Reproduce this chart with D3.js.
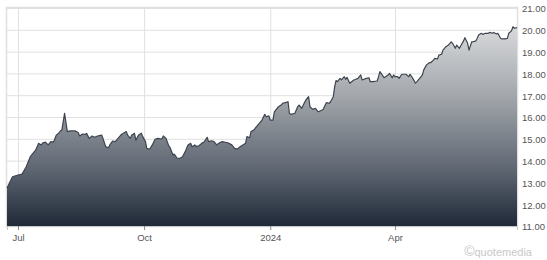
<!DOCTYPE html>
<html>
<head>
<meta charset="utf-8">
<script src="https://cdn.jsdelivr.net/npm/d3@7"></script>
<style>
  body { margin: 0; background: #fff; }
  svg text { font-family: "Liberation Sans", Tahoma, Arial, sans-serif; }
</style>
</head>
<body>
<div class="graph_container"></div>
<script>
const width = 547;
const height = 260;
const plot = { left: 7, top: 8, right: 517, bottom: 226 };

// one line per month, dates and closes kept in step
const dates = [
  '2023-06-23', '2023-06-27',
  '2023-07-01', '2023-07-04', '2023-07-07', '2023-07-10', '2023-07-14', '2023-07-16', '2023-07-18', '2023-07-19', '2023-07-21', '2023-07-23', '2023-07-25', '2023-07-27', '2023-07-29', '2023-07-31',
  '2023-08-01', '2023-08-02', '2023-08-04', '2023-08-06', '2023-08-08', '2023-08-12', '2023-08-14', '2023-08-15', '2023-08-17', '2023-08-19', '2023-08-20', '2023-08-22', '2023-08-24', '2023-08-26', '2023-08-28', '2023-08-31',
  '2023-09-01', '2023-09-03', '2023-09-05', '2023-09-06', '2023-09-08', '2023-09-10', '2023-09-12', '2023-09-14', '2023-09-15', '2023-09-18', '2023-09-19', '2023-09-21', '2023-09-22', '2023-09-24', '2023-09-25', '2023-09-27', '2023-09-29', '2023-09-30',
  '2023-10-02', '2023-10-03', '2023-10-05', '2023-10-07', '2023-10-09', '2023-10-11', '2023-10-14', '2023-10-15', '2023-10-17', '2023-10-19', '2023-10-20', '2023-10-22', '2023-10-23', '2023-10-25', '2023-10-27', '2023-10-29', '2023-10-31',
  '2023-11-02', '2023-11-04', '2023-11-05', '2023-11-07', '2023-11-08', '2023-11-10', '2023-11-12', '2023-11-14', '2023-11-16', '2023-11-17', '2023-11-19', '2023-11-21', '2023-11-23', '2023-11-25', '2023-11-27',
  '2023-12-01', '2023-12-04', '2023-12-06', '2023-12-08', '2023-12-10', '2023-12-12', '2023-12-14', '2023-12-15', '2023-12-17', '2023-12-18', '2023-12-20', '2023-12-22', '2023-12-24', '2023-12-26', '2023-12-28', '2023-12-29', '2023-12-31',
  '2024-01-01', '2024-01-03', '2024-01-04', '2024-01-07', '2024-01-09', '2024-01-10', '2024-01-12', '2024-01-14', '2024-01-15', '2024-01-16', '2024-01-19', '2024-01-21', '2024-01-22', '2024-01-24', '2024-01-26', '2024-01-27', '2024-01-29', '2024-01-30',
  '2024-02-01', '2024-02-03', '2024-02-04', '2024-02-05', '2024-02-08', '2024-02-09', '2024-02-11', '2024-02-13', '2024-02-14', '2024-02-16', '2024-02-17', '2024-02-18', '2024-02-19', '2024-02-21', '2024-02-22', '2024-02-24', '2024-02-25', '2024-02-26', '2024-02-28',
  '2024-03-02', '2024-03-03', '2024-03-05', '2024-03-07', '2024-03-08', '2024-03-11', '2024-03-13', '2024-03-14', '2024-03-16', '2024-03-19', '2024-03-20', '2024-03-21', '2024-03-23', '2024-03-24', '2024-03-27', '2024-03-28', '2024-03-30', '2024-03-31',
  '2024-04-01', '2024-04-03', '2024-04-04', '2024-04-06', '2024-04-07', '2024-04-09', '2024-04-11', '2024-04-12', '2024-04-14', '2024-04-16', '2024-04-17', '2024-04-19', '2024-04-21', '2024-04-22', '2024-04-24', '2024-04-26', '2024-04-27', '2024-04-29', '2024-04-30',
  '2024-05-02', '2024-05-03', '2024-05-05', '2024-05-06', '2024-05-08', '2024-05-09', '2024-05-10', '2024-05-12', '2024-05-13', '2024-05-15', '2024-05-16', '2024-05-18', '2024-05-19', '2024-05-21', '2024-05-22', '2024-05-24', '2024-05-25', '2024-05-27', '2024-05-28', '2024-05-30', '2024-05-31',
  '2024-06-01', '2024-06-03', '2024-06-04', '2024-06-06', '2024-06-08', '2024-06-09', '2024-06-11', '2024-06-12', '2024-06-14', '2024-06-15', '2024-06-17', '2024-06-18', '2024-06-20', '2024-06-22', '2024-06-23', '2024-06-25', '2024-06-26', '2024-06-27', '2024-06-29'
];

const closes = [
  12.74, 13.26,
  13.34, 13.38, 13.72, 14.18, 14.49, 14.79, 14.72, 14.80, 14.85, 14.72, 14.87, 14.85, 15.17, 15.28,
  15.36, 15.40, 16.17, 15.33, 15.36, 15.36, 15.28, 15.13, 15.22, 15.20, 15.25, 15.02, 15.13, 15.07, 15.13, 15.17,
  15.02, 14.64, 14.59, 14.72, 14.90, 14.87, 15.02, 15.17, 15.22, 15.33, 15.17, 15.02, 15.17, 15.25, 14.94, 15.17, 15.26, 15.10,
  14.87, 14.56, 14.52, 14.72, 14.98, 15.02, 14.99, 15.13, 15.02, 14.67, 14.59, 14.26, 14.30, 14.12, 14.10, 14.18, 14.41,
  14.72, 14.79, 14.64, 14.72, 14.64, 14.68, 14.79, 14.87, 15.07, 14.87, 14.91, 14.87, 14.72, 14.82, 14.87,
  14.82, 14.72, 14.56, 14.53, 14.64, 14.72, 14.79, 15.10, 15.05, 15.33, 15.40, 15.56, 15.71, 15.86, 16.12, 16.01, 16.05,
  15.86, 15.86, 16.24, 16.47, 16.55, 16.63, 16.66, 16.70, 16.17, 16.12, 16.17, 16.47, 16.55, 16.40, 16.66, 16.78, 16.93, 16.47,
  16.35, 16.40, 16.32, 16.24, 16.32, 16.40, 16.66, 16.63, 16.70, 16.93, 17.39, 17.67, 17.62, 17.77, 17.70, 17.85, 17.73, 17.82, 17.55,
  17.70, 17.72, 17.77, 17.93, 17.70, 17.77, 17.80, 17.62, 17.62, 17.65, 17.85, 18.08, 17.90, 17.80, 17.93, 18.00, 17.80, 17.93,
  17.85, 17.85, 17.77, 17.96, 17.96, 17.96, 17.85, 17.96, 17.77, 17.55, 17.62, 17.77, 17.93, 18.16, 18.39, 18.49, 18.49, 18.61, 18.69,
  18.66, 18.84, 18.88, 19.07, 19.22, 19.26, 19.30, 19.45, 19.38, 19.15, 19.30, 19.15, 19.27, 19.49, 19.64, 19.38, 19.07, 19.45, 19.45, 19.49, 19.61,
  19.76, 19.84, 19.79, 19.84, 19.84, 19.88, 19.84, 19.88, 19.81, 19.84, 19.61, 19.58, 19.58, 19.61, 19.84, 19.95, 20.14, 20.07, 20.10
];

const yTicks = [11, 12, 13, 14, 15, 16, 17, 18, 19, 20, 21];
const xTickDates = ['2023-07-01', '2023-10-01', '2024-01-01', '2024-04-01'];
const xTickLabels = ['Jul', 'Oct', '2024', 'Apr'];

const parseDate = d3.timeParse('%Y-%m-%d');
const data = dates.map(function (d, i) { return { date: parseDate(d), close: closes[i] }; });
const tickDates = xTickDates.map(parseDate);

const x = d3.scaleTime()
  .domain(d3.extent(data, function (d) { return d.date; }))
  .range([plot.left, plot.right]);
const y = d3.scaleLinear().domain([11, 21]).range([plot.bottom, plot.top]);

const svg = d3.select('.graph_container').append('svg')
  .attr('width', width)
  .attr('height', height);

// vertical fade from light grey to dark slate
const grad = svg.append('defs').append('linearGradient')
  .attr('id', 'fade')
  .attr('gradientUnits', 'userSpaceOnUse')
  .attr('x1', 0).attr('x2', 0)
  .attr('y1', plot.top).attr('y2', plot.bottom);
grad.append('stop').attr('offset', '0%').attr('stop-color', '#e6e7e8');
grad.append('stop').attr('offset', '40%').attr('stop-color', '#a3a7ac');
grad.append('stop').attr('offset', '75%').attr('stop-color', '#5c6470');
grad.append('stop').attr('offset', '100%').attr('stop-color', '#1f2937');

// horizontal grid
svg.append('g')
  .attr('class', 'y grid')
  .attr('transform', 'translate(' + plot.left + ',0)')
  .call(d3.axisRight(y).tickValues(yTicks).tickSize(plot.right - plot.left).tickFormat(''))
  .call(function (g) { g.select('.domain').remove(); })
  .selectAll('line').attr('stroke', '#e0e0e0');

// vertical grid
svg.append('g')
  .attr('class', 'x grid')
  .attr('transform', 'translate(0,' + plot.top + ')')
  .call(d3.axisBottom(x).tickValues(tickDates).tickSize(plot.bottom - plot.top).tickFormat(''))
  .call(function (g) { g.select('.domain').remove(); })
  .selectAll('line').attr('stroke', '#e0e0e0');

// plot frame
svg.append('rect')
  .attr('x', plot.left - 0.5)
  .attr('y', plot.top - 0.5)
  .attr('width', plot.right - plot.left + 1)
  .attr('height', plot.bottom - plot.top + 1)
  .attr('fill', 'none')
  .attr('stroke', '#e0e0e0')
  .attr('stroke-width', 1.5);

const area = d3.area()
  .x(function (d) { return x(d.date); })
  .y0(y(11))
  .y1(function (d) { return y(d.close); });

const line = d3.line()
  .x(function (d) { return x(d.date); })
  .y(function (d) { return y(d.close); });

svg.append('path')
  .datum(data)
  .attr('d', area)
  .attr('fill', 'url(#fade)');

svg.append('path')
  .datum(data)
  .attr('d', line)
  .attr('fill', 'none')
  .attr('stroke', '#3d444d')
  .attr('stroke-width', 1.2)
  .attr('stroke-linejoin', 'round');

// x axis with small ticks and month labels
const xAxis = svg.append('g')
  .attr('class', 'x axis')
  .attr('transform', 'translate(0,' + plot.bottom + ')')
  .call(d3.axisBottom(x)
    .tickValues(tickDates)
    .tickSize(4)
    .tickPadding(4)
    .tickFormat(function (d, i) { return xTickLabels[i]; }));
xAxis.select('.domain').attr('stroke', '#c8c8c8');
xAxis.selectAll('line').attr('stroke', '#888');
xAxis.selectAll('text')
  .attr('fill', '#555')
  .style('font-size', '9.5px');

// price labels on the right
const yAxis = svg.append('g')
  .attr('class', 'y axis')
  .attr('transform', 'translate(' + plot.right + ',0)')
  .call(d3.axisRight(y)
    .tickValues(yTicks)
    .tickSize(0)
    .tickPadding(5)
    .tickFormat(d3.format('.2f')));
yAxis.select('.domain').remove();
yAxis.selectAll('text')
  .attr('fill', '#555')
  .attr('dy', '0.4em')
  .style('font-size', '9.5px');

// watermark
const mark = svg.append('text')
  .attr('x', 532)
  .attr('y', 256)
  .attr('text-anchor', 'end')
  .attr('fill', '#c8c8c8');
mark.append('tspan')
  .style('font-size', '14px')
  .text('\u00a9');
mark.append('tspan')
  .style('font-size', '11px')
  .text('quotemedia');
</script>
</body>
</html>
